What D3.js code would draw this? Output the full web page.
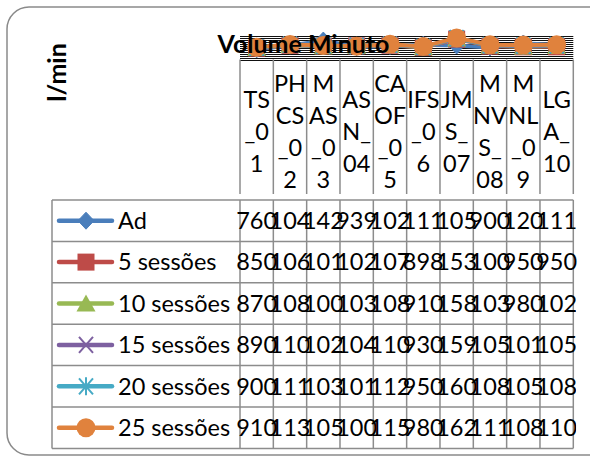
<!DOCTYPE html>
<html>
<head>
<meta charset="utf-8">
<script src="https://cdn.jsdelivr.net/npm/d3@7/dist/d3.min.js"></script>
<style>
  html, body { margin: 0; padding: 0; background: #ffffff; }
  svg { display: block; }
  text { font-family: Lato, "Open Sans", sans-serif; fill: #000; }
</style>
</head>
<body>
<svg id="chart" width="590" height="457"></svg>
<script>
// ---------- data ----------
const title = "Volume Minuto";
const yTitle = "l/min";
const categories = ["TS_01", "PHCS_02", "MAS_03", "ASN_04", "CAOF_05", "IFS_06", "JMS_07", "MNVS_08", "MNL_09", "LGA_10"];
const seriesNames = ["Ad", "5 sessões", "10 sessões", "15 sessões", "20 sessões", "25 sessões"];
const adValues  = [760, 1040, 1420, 939, 1020, 1110, 1050, 900, 1200, 1110];
const s5Values  = [850, 1060, 1010, 1020, 1070, 898, 1530, 1000, 950, 950];
const s10Values = [870, 1080, 1000, 1030, 1080, 910, 1580, 1030, 980, 1020];
const s15Values = [890, 1100, 1020, 1040, 1100, 930, 1590, 1050, 1010, 1050];
const s20Values = [900, 1110, 1030, 1010, 1120, 950, 1600, 1080, 1050, 1080];
const s25Values = [910, 1130, 1050, 1000, 1150, 980, 1620, 1110, 1080, 1100];
const yTicks = [0, 150, 300, 450, 600, 750, 900, 1050, 1200, 1350, 1500, 1650, 1800];

// ---------- styling ----------
const allValues = [adValues, s5Values, s10Values, s15Values, s20Values, s25Values];
const colors = ["#4A7EBB", "#BE4B48", "#98B954", "#7D60A0", "#46AAC5", "#E0823D"];
const markers = ["diamond", "square", "triangle", "x", "asterisk", "circle"];

const svg = d3.select("#chart");
const gridColor = "#8c8c8c";

// outer rounded border (extends beyond right edge, as in reference)
svg.append("rect")
  .attr("x", 7).attr("y", 7).attr("width", 640).attr("height", 448)
  .attr("rx", 22).attr("ry", 22)
  .attr("fill", "#fff").attr("stroke", "#8a8a8a").attr("stroke-width", 1.5);

// scales
const colLeft = 240, colRight = 573.3;
const x = d3.scaleBand().domain(categories).range([colLeft, colRight]).paddingInner(0).paddingOuter(0);
const y = d3.scaleLinear().domain([0, 1800]).range([59.5, 35.5]);

// gridlines
svg.append("g").selectAll("line").data(yTicks).join("line")
  .attr("x1", colLeft).attr("x2", colRight)
  .attr("y1", d => Math.round(y(d)) + 0.5).attr("y2", d => Math.round(y(d)) + 0.5)
  .attr("stroke", "#111").attr("stroke-width", 1);

// header column lines
const headerTop = 59.5, headerBottom = 194;
const colEdges = d3.range(categories.length + 1).map(i => colLeft + i * x.bandwidth());
svg.append("g").selectAll("line").data(colEdges).join("line")
  .attr("x1", d => d).attr("x2", d => d)
  .attr("y1", headerTop).attr("y2", headerBottom)
  .attr("stroke", gridColor).attr("stroke-width", 1.5);

// header labels (character wrap)
const fs = 23.5;
const headG = svg.append("g").attr("font-size", fs);
const measurer = headG.append("text").attr("visibility", "hidden");
function textW(s) { measurer.text(s); return measurer.node().getComputedTextLength(); }
const maxW = fs * 1.5;
function wrapChars(s) {
  const lines = [];
  let cur = "";
  for (const ch of s) {
    if (cur && textW(cur + ch) > maxW) { lines.push(cur); cur = ch; }
    else cur += ch;
  }
  if (cur) lines.push(cur);
  return lines;
}
const lineH = 32, baseMid = 140;
categories.forEach(cat => {
  const lines = wrapChars(cat);
  const cx = x(cat) + x.bandwidth() / 2;
  const t = headG.append("text").attr("text-anchor", "middle");
  lines.forEach((ln, i) => {
    t.append("tspan").attr("x", cx)
      .attr("y", baseMid + (i - (lines.length - 1) / 2) * lineH)
      .text(ln);
  });
});
measurer.remove();

// data table
const tableLeft = 52, tableTop = 200, rowH = 41.4;
const nRows = seriesNames.length;
const tableG = svg.append("g");
d3.range(nRows + 1).forEach(i => {
  tableG.append("line")
    .attr("x1", tableLeft).attr("x2", colRight)
    .attr("y1", tableTop + i * rowH).attr("y2", tableTop + i * rowH)
    .attr("stroke", gridColor).attr("stroke-width", 1.5);
});
[tableLeft].concat(colEdges).forEach(xx => {
  tableG.append("line")
    .attr("x1", xx).attr("x2", xx)
    .attr("y1", tableTop).attr("y2", tableTop + nRows * rowH)
    .attr("stroke", gridColor).attr("stroke-width", 1.5);
});

// marker drawing helper
function drawMarker(g, type, cx, cy, color) {
  const m = g.append("g").attr("transform", `translate(${cx},${cy})`);
  if (type === "diamond") {
    m.append("path").attr("d", "M0,-8.5L8,0L0,8.5L-8,0Z").attr("fill", color).attr("stroke", color).attr("stroke-width", 1);
  } else if (type === "square") {
    m.append("rect").attr("x", -8.5).attr("y", -8.5).attr("width", 17).attr("height", 17).attr("fill", color);
  } else if (type === "triangle") {
    m.append("path").attr("d", "M0,-9L9.5,8L-9.5,8Z").attr("fill", color);
  } else if (type === "x") {
    m.append("path").attr("d", "M-7,-8L7,8M7,-8L-7,8").attr("stroke", color).attr("stroke-width", 2).attr("fill", "none");
  } else if (type === "asterisk") {
    m.append("path").attr("d", "M-7,-8L7,8M7,-8L-7,8M0,-9L0,9").attr("stroke", color).attr("stroke-width", 2).attr("fill", "none");
  } else if (type === "circle") {
    m.append("circle").attr("r", 9.5).attr("fill", color);
  }
}

// row labels, legend keys and values
const defs = svg.append("defs");
seriesNames.forEach((name, r) => {
  const cy = tableTop + (r + 0.5) * rowH;
  const rowG = tableG.append("g").attr("font-size", fs);
  rowG.append("line").attr("x1", 59).attr("x2", 112).attr("y1", cy).attr("y2", cy)
    .attr("stroke", colors[r]).attr("stroke-width", 4.5).attr("stroke-linecap", "round");
  drawMarker(rowG, markers[r], 86, cy, colors[r]);
  rowG.append("text").attr("x", 118).attr("y", cy + 8.3).text(name);
  allValues[r].forEach((v, c) => {
    const cx = x(categories[c]) + x.bandwidth() / 2;
    const s = String(v);
    const t = rowG.append("text").attr("y", cy + 8.3).text(s);
    const w3 = t.node().getSubStringLength(0, Math.min(3, s.length));
    const x0 = cx - w3 / 2;
    t.attr("x", x0);
    if (s.length > 3) {
      const id = `clip-${r}-${c}`;
      defs.append("clipPath").attr("id", id).append("rect")
        .attr("x", x0 - 2).attr("y", cy - rowH / 2).attr("width", w3 + 1).attr("height", rowH);
      t.attr("clip-path", `url(#${id})`);
    }
  });
});

// series in plot area
const plotG = svg.append("g");
const line = d3.line().x((d, i) => x(categories[i]) + x.bandwidth() / 2).y(d => y(d));
allValues.forEach((vals, s) => {
  plotG.append("path").attr("d", line(vals)).attr("fill", "none")
    .attr("stroke", colors[s]).attr("stroke-width", 4).attr("stroke-linejoin", "round");
  vals.forEach((v, i) => drawMarker(plotG, markers[s], x(categories[i]) + x.bandwidth() / 2, y(v), colors[s]));
});

// titles
svg.append("text").attr("x", 303.5).attr("y", 53.3).attr("text-anchor", "middle")
  .attr("font-size", 25).attr("font-weight", "bold").text(title);
svg.append("text").attr("transform", "translate(55.5,72.5) rotate(-90)")
  .attr("text-anchor", "middle").attr("dominant-baseline", "central")
  .attr("font-size", 25).attr("font-weight", "bold").text(yTitle);
</script>
</body>
</html>
